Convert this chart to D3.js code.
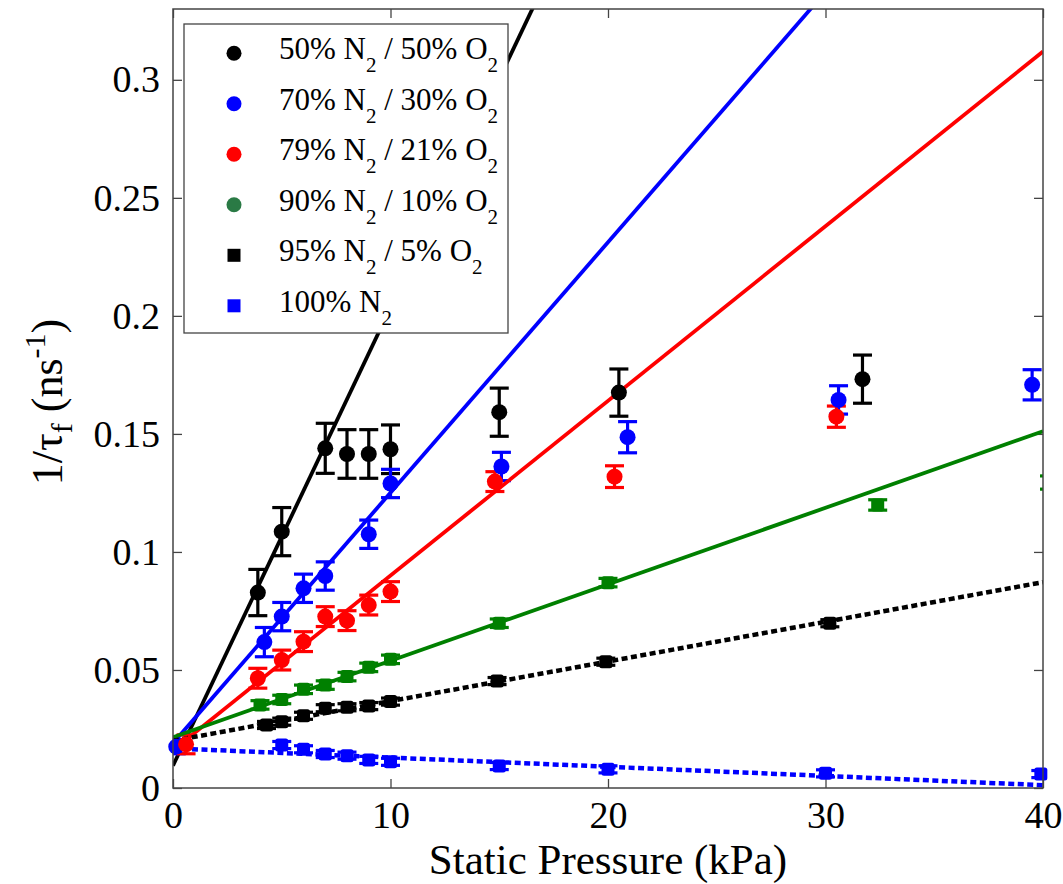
<!DOCTYPE html>
<html>
<head>
<meta charset="utf-8">
<script src="https://cdn.jsdelivr.net/npm/d3@7"></script>
<style>
  html, body { margin: 0; padding: 0; background: #fff; }
  svg { display: block; font-family: "Liberation Serif", "Times New Roman", serif; }
</style>
</head>
<body>
<svg id="chart" width="1063" height="884"></svg>
<script>
// ---- data: decay rate 1/tau_f (ns^-1) vs static pressure (kPa) ----
const xTicks = [0, 10, 20, 30, 40];
const yTicks = [0, 0.05, 0.1, 0.15, 0.2, 0.25, 0.3];
const yTickLabels = ["0", "0.05", "0.1", "0.15", "0.2", "0.25", "0.3"];

const seriesNames = [
  ["50% N", "2", " / 50% O", "2"],
  ["70% N", "2", " / 30% O", "2"],
  ["79% N", "2", " / 21% O", "2"],
  ["90% N", "2", " / 10% O", "2"],
  ["95% N", "2", " / 5% O", "2"],
  ["100% N", "2"]
];

// 50% N2 / 50% O2
const p50 = [3.9, 5.0, 7.0, 8.0, 9.0, 10.0, 15.0, 20.5, 31.7];
const r50 = [0.0828, 0.1086, 0.1439, 0.1415, 0.1415, 0.1435, 0.1592, 0.1675, 0.1732];
const e50 = [0.0098, 0.0102, 0.0106, 0.0103, 0.0103, 0.0103, 0.0102, 0.0100, 0.0102];

// 70% N2 / 30% O2
const p70 = [0.15, 4.2, 5.0, 6.0, 7.0, 9.0, 10.0, 15.1, 20.9, 30.6, 39.5];
const r70 = [0.0175, 0.0618, 0.0726, 0.0846, 0.0898, 0.1075, 0.1290, 0.1362, 0.1486, 0.1644, 0.1708];
const e70 = [0.0030, 0.0062, 0.0060, 0.0060, 0.0060, 0.0060, 0.0060, 0.0060, 0.0066, 0.0060, 0.0064];

// 79% N2 / 21% O2
const p79 = [0.6, 3.9, 5.0, 6.0, 7.0, 8.0, 9.0, 10.0, 14.8, 20.3, 30.5];
const r79 = [0.0185, 0.0465, 0.0542, 0.0620, 0.0726, 0.0709, 0.0775, 0.0832, 0.1298, 0.1319, 0.1573];
const e79 = [0.0040, 0.0042, 0.0042, 0.0042, 0.0042, 0.0042, 0.0042, 0.0042, 0.0042, 0.0046, 0.0045];

// 90% N2 / 10% O2
const p90 = [4.0, 5.0, 6.0, 7.0, 8.0, 9.0, 10.0, 15.0, 20.0, 32.4, 40.3];
const r90 = [0.0352, 0.0375, 0.0418, 0.0436, 0.0472, 0.0511, 0.0545, 0.0698, 0.0870, 0.1199, 0.1294];
const e90 = [0.0018, 0.0018, 0.0018, 0.0018, 0.0018, 0.0018, 0.0018, 0.0018, 0.0018, 0.0022, 0.0028];

// 95% N2 / 5% O2
const p95 = [4.3, 5.0, 6.0, 7.0, 8.0, 9.0, 10.0, 14.9, 19.9, 30.2];
const r95 = [0.0267, 0.0281, 0.0306, 0.0338, 0.0342, 0.0347, 0.0366, 0.0453, 0.0535, 0.0698];
const e95 = [0.0015, 0.0015, 0.0015, 0.0015, 0.0015, 0.0015, 0.0015, 0.0015, 0.0015, 0.0015];

// 100% N2
const p100 = [5.0, 6.0, 7.0, 8.0, 9.0, 10.0, 15.0, 20.0, 30.0, 39.9];
const r100 = [0.0182, 0.0164, 0.0144, 0.0137, 0.0119, 0.0111, 0.0093, 0.0079, 0.0062, 0.0059];
const e100 = [0.0015, 0.0015, 0.0015, 0.0015, 0.0015, 0.0015, 0.0015, 0.0015, 0.0015, 0.0015];

// linear fits: rate = intercept + slope * pressure
const fitIntercept = [0.0095, 0.0190, 0.0160, 0.0215, 0.0200, 0.0168];
const fitSlope     = [0.0194, 0.01061, 0.0074, 0.00324, 0.00168, -0.00039];

// ---- styling ----
const colors = ["#000000", "#0000ff", "#ff0000", "#008000", "#000000", "#0000ff"];
const legendColors = ["#000000", "#0000ff", "#ff0000", "#2a7a45", "#000000", "#0000ff"];
const shapes = ["circle", "circle", "circle", "square", "square", "square"];
const legendShapes = ["circle", "circle", "circle", "circle", "square", "square"];
const dashed = [false, false, false, false, true, true];

const series = [
  [p50, r50, e50], [p70, r70, e70], [p79, r79, e79],
  [p90, r90, e90], [p95, r95, e95], [p100, r100, e100]
];

const W = 1063, H = 884;
const margin = { left: 173, top: 9, right: 20, bottom: 96 };
const iw = W - margin.left - margin.right;
const ih = H - margin.top - margin.bottom;

const svg = d3.select("#chart");
const g = svg.append("g").attr("transform", `translate(${margin.left},${margin.top})`);

const x = d3.scaleLinear().domain([0, 40]).range([0, iw]);
const y = d3.scaleLinear().domain([0, 0.33]).range([ih, 0]);

svg.append("defs").append("clipPath").attr("id", "plotClip")
  .append("rect").attr("x", 0).attr("y", 0).attr("width", iw).attr("height", ih);

// ---- axes with inward ticks on all sides ----
const tickLen = 9;
const axisFont = 38;

g.append("g").attr("transform", `translate(0,${ih})`)
  .call(d3.axisBottom(x).tickValues(xTicks).tickSizeInner(-tickLen).tickSizeOuter(0).tickPadding(13));
g.append("g")
  .call(d3.axisLeft(y).tickValues(yTicks).tickFormat((d, i) => yTickLabels[i])
    .tickSizeInner(-tickLen).tickSizeOuter(0).tickPadding(13));
g.append("g")
  .call(d3.axisTop(x).tickValues(xTicks).tickSizeInner(-tickLen).tickSizeOuter(0).tickFormat(""));
g.append("g").attr("transform", `translate(${iw},0)`)
  .call(d3.axisRight(y).tickValues(yTicks).tickSizeInner(-tickLen).tickSizeOuter(0).tickFormat(""));

g.selectAll(".domain").remove();
g.selectAll(".tick line").attr("stroke", "#444").attr("stroke-width", 1.3);
g.selectAll(".tick text")
  .attr("font-family", "Liberation Serif, Times New Roman, serif")
  .attr("font-size", axisFont).attr("fill", "#000");

// ---- data layer ----
const plot = g.append("g");
const clipped = plot.append("g").attr("clip-path", "url(#plotClip)");

const capHalf = 9.5;
const circleR = 8;
const sq = 13;

series.forEach(([px, ry, er], si) => {
  const col = colors[si];
  const pts = px.map((p, i) => ({ p, r: ry[i], e: er[i] }));

  // error bars (clipped to the axes box)
  const eb = clipped.append("g").attr("stroke", col).attr("stroke-width", 3.2);
  pts.forEach(d => {
    const cx = x(d.p), y0 = y(d.r - d.e), y1 = y(d.r + d.e);
    eb.append("line").attr("x1", cx).attr("x2", cx).attr("y1", y0).attr("y2", y1);
    eb.append("line").attr("x1", cx - capHalf).attr("x2", cx + capHalf).attr("y1", y0).attr("y2", y0);
    eb.append("line").attr("x1", cx - capHalf).attr("x2", cx + capHalf).attr("y1", y1).attr("y2", y1);
  });

  // markers for points inside the pressure range
  const inside = pts.filter(d => d.p >= 0 && d.p <= 40);
  if (shapes[si] === "circle") {
    plot.append("g").selectAll("circle").data(inside).join("circle")
      .attr("cx", d => x(d.p)).attr("cy", d => y(d.r)).attr("r", circleR).attr("fill", col);
  } else {
    plot.append("g").selectAll("rect").data(inside).join("rect")
      .attr("x", d => x(d.p) - sq / 2).attr("y", d => y(d.r) - sq / 2)
      .attr("width", sq).attr("height", sq).attr("rx", 2.5).attr("fill", col);
  }

  // linear fit
  const fit = [0, 40].map(p => ({ p, r: fitIntercept[si] + fitSlope[si] * p }));
  clipped.append("path").datum(fit)
    .attr("d", d3.line().x(d => x(d.p)).y(d => y(d.r)))
    .attr("fill", "none").attr("stroke", col)
    .attr("stroke-width", dashed[si] ? 4.5 : 3.8)
    .attr("stroke-dasharray", dashed[si] ? "6,3.5" : null);
});

// axes box
g.append("rect").attr("x", 0).attr("y", 0).attr("width", iw).attr("height", ih)
  .attr("fill", "none").attr("stroke", "#444").attr("stroke-width", 1.5);

// ---- axis titles ----
svg.append("text")
  .attr("x", margin.left + iw / 2).attr("y", 874)
  .attr("text-anchor", "middle").attr("font-size", 43)
  .text("Static Pressure (kPa)");

const yl = svg.append("text")
  .attr("transform", "translate(62,402) rotate(-90)")
  .attr("text-anchor", "middle").attr("font-size", 44);
yl.append("tspan").text("1/τ");
yl.append("tspan").attr("font-size", 30).attr("dy", 10).text("f");
yl.append("tspan").attr("dy", -10).text(" (ns");
yl.append("tspan").attr("font-size", 30).attr("dy", -17).text("-1");
yl.append("tspan").attr("dy", 17).text(")");

// ---- legend ----
const lg = svg.append("g");
lg.append("rect").attr("x", 184).attr("y", 24).attr("width", 324).attr("height", 309)
  .attr("fill", "#fff").attr("stroke", "#444").attr("stroke-width", 1.3);

const rowY0 = 53.3, rowStep = 50.5;
seriesNames.forEach((parts, i) => {
  const cy = rowY0 + i * rowStep;
  if (legendShapes[i] === "circle") {
    lg.append("circle").attr("cx", 234).attr("cy", cy).attr("r", 7.5).attr("fill", legendColors[i]);
  } else {
    lg.append("rect").attr("x", 234 - 6.5).attr("y", cy - 6.5).attr("width", 13).attr("height", 13)
      .attr("fill", legendColors[i]);
  }
  const t = lg.append("text").attr("x", 279).attr("y", cy + 6).attr("font-size", 31);
  parts.forEach((s, k) => {
    const sub = k % 2 === 1;
    t.append("tspan")
      .attr("font-size", sub ? 21 : 31)
      .attr("dy", k === 0 ? 0 : (sub ? 13 : -13))
      .text(s);
  });
});
</script>
</body>
</html>
